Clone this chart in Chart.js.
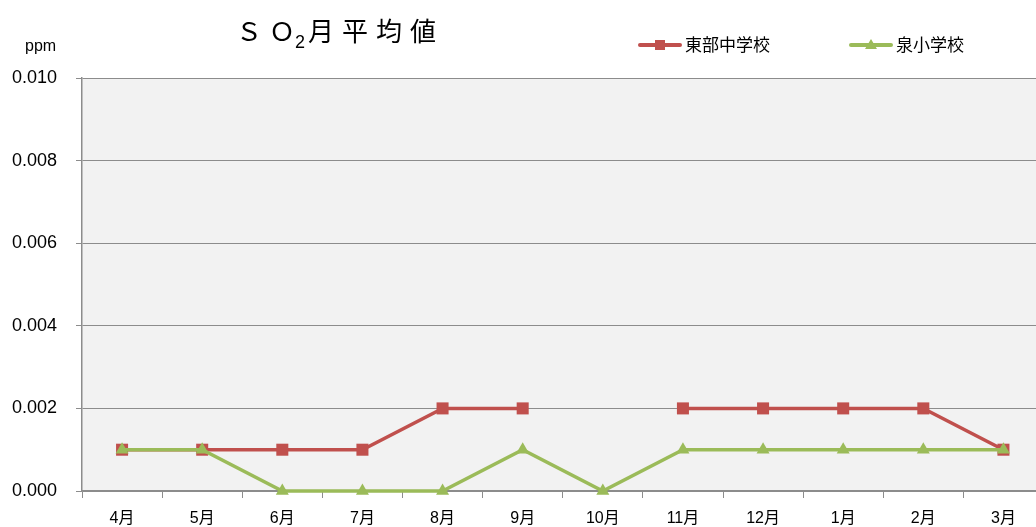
<!DOCTYPE html>
<html>
<head>
<meta charset="utf-8">
<script src="https://cdn.jsdelivr.net/npm/chart.js@4"></script>
<style>
  html, body { margin: 0; padding: 0; background: #fff; overflow: hidden; }
  #wrap { width: 1052px; height: 527px; }
</style>
</head>
<body>
<div id="wrap"><canvas id="so2Chart" width="1052" height="527"></canvas></div>
<script>
// 月 (4月〜3月)
const meses = ['4月', '5月', '6月', '7月', '8月', '9月', '10月', '11月', '12月', '1月', '2月', '3月'];
// 東部中学校 (10月は欠測)
const toubu = [0.001, 0.001, 0.001, 0.001, 0.002, 0.002, null, 0.002, 0.002, 0.002, 0.002, 0.001];
// 泉小学校
const izumi = [0.001, 0.001, 0.000, 0.000, 0.000, 0.001, 0.000, 0.001, 0.001, 0.001, 0.001, 0.001];
const yTicks = [0, 0.002, 0.004, 0.006, 0.008, 0.010];

const RED = '#C0504D';
const GREEN = '#9BBB59';
const FONT = '"Liberation Sans", "Noto Sans CJK JP", sans-serif';
const JP = '"Noto Sans CJK JP", "Liberation Sans", sans-serif';

// fundo cinza da área do gráfico + título + legenda
const decor = {
    id: 'decor',
    beforeDraw(chart) {
        const { ctx, chartArea: a } = chart;
        ctx.save();
        ctx.fillStyle = '#F2F2F2';
        ctx.fillRect(a.left, a.top, a.right - a.left, a.bottom - a.top);
        ctx.restore();
    },
    afterDraw(chart) {
        const ctx = chart.ctx;
        ctx.save();
        ctx.fillStyle = '#000';
        ctx.textBaseline = 'alphabetic';

        // título: ＳＯ2月平均値 (2 subscrito)
        ctx.font = '26px ' + JP;
        let x = 236;
        const base = 41;
        ctx.fillText('Ｓ', x, base); x += 33;
        ctx.fillText('Ｏ', x, base); x += ctx.measureText('Ｏ').width;
        ctx.font = '18px ' + FONT;
        ctx.fillText('2', x, base + 7); x += ctx.measureText('2').width + 3;
        ctx.font = '26px ' + JP;
        ['月', '平', '均', '値'].forEach(c => { ctx.fillText(c, x, base); x += 34; });

        // unidade
        ctx.font = '16px ' + FONT;
        ctx.fillText('ppm', 25, 51);

        // legenda
        const items = [
            { label: '東部中学校', color: RED, style: 'rect', x0: 640 },
            { label: '泉小学校', color: GREEN, style: 'triangle', x0: 851 }
        ];
        items.forEach(it => {
            const y = 45;
            ctx.strokeStyle = it.color;
            ctx.lineWidth = 4;
            ctx.lineCap = 'round';
            ctx.beginPath();
            ctx.moveTo(it.x0, y);
            ctx.lineTo(it.x0 + 40, y);
            ctx.stroke();
            ctx.fillStyle = it.color;
            const cx = it.x0 + 20;
            if (it.style === 'rect') {
                ctx.fillRect(cx - 5, y - 5, 10, 10);
            } else {
                ctx.beginPath();
                ctx.moveTo(cx, y - 6);
                ctx.lineTo(cx + 6, y + 4);
                ctx.lineTo(cx - 6, y + 4);
                ctx.closePath();
                ctx.fill();
            }
            ctx.fillStyle = '#000';
            ctx.font = '17px ' + JP;
            ctx.textBaseline = 'middle';
            ctx.fillText(it.label, it.x0 + 45, y);
            ctx.textBaseline = 'alphabetic';
        });
        ctx.restore();
    }
};

const ctxSo2 = document.getElementById('so2Chart').getContext('2d');
const so2Chart = new Chart(ctxSo2, {
    type: 'line',
    data: {
        labels: meses,
        datasets: [
            {
                label: '東部中学校', data: toubu, borderColor: RED, backgroundColor: RED,
                borderWidth: 3.5, pointStyle: 'rect', pointRadius: 8.5, pointHoverRadius: 8.5,
                pointBorderWidth: 0, spanGaps: false, tension: 0, order: 2, clip: false
            },
            {
                label: '泉小学校', data: izumi, borderColor: GREEN, backgroundColor: GREEN,
                borderWidth: 3.5, pointStyle: 'triangle', pointRadius: 7.5, pointHoverRadius: 7.5,
                pointBorderWidth: 0, tension: 0, order: 1, clip: false
            }
        ]
    },
    options: {
        animation: false,
        responsive: false,
        layout: { padding: { top: 78, left: 0, right: 2, bottom: 0 } },
        plugins: { legend: { display: false }, title: { display: false }, tooltip: { enabled: false } },
        scales: {
            x: {
                offset: true,
                grid: { display: true, drawOnChartArea: false, offset: true, tickLength: 7, color: '#8C8C8C', lineWidth: 1 },
                border: { color: '#8C8C8C', width: 1.5 },
                ticks: { color: '#000', font: { family: FONT, size: 16 }, padding: 11, maxRotation: 0, autoSkip: false },
                afterFit: (s) => { s.height = 36; }
            },
            y: {
                min: 0, max: 0.010,
                afterBuildTicks: (s) => { s.ticks = yTicks.map(v => ({ value: v })); },
                grid: { color: '#8C8C8C', lineWidth: 1, tickLength: 6 },
                border: { color: '#8C8C8C', width: 1.5 },
                ticks: { color: '#000', font: { family: FONT, size: 18 }, padding: 19, callback: (v) => v.toFixed(3) },
                afterFit: (s) => { s.width = 82; }
            }
        }
    },
    plugins: [decor]
});
</script>
</body>
</html>
